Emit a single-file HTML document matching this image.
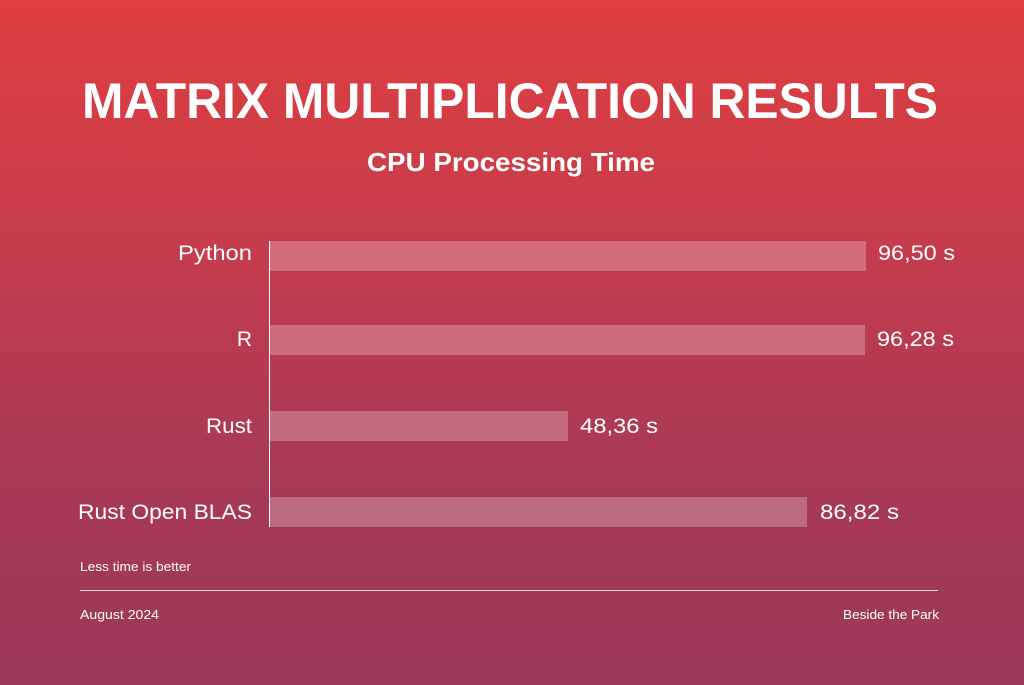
<!DOCTYPE html>
<html><head><meta charset="utf-8"><style>
html,body{margin:0;padding:0;}
body{width:1024px;height:685px;overflow:hidden;background:linear-gradient(180deg,#e03e3f 0%,#c63c4c 35%,#a83957 70%,#9c3758 100%);}
svg{display:block}
text{font-family:"Liberation Sans",sans-serif;fill:#fff}
</style></head><body>
<svg width="1024" height="685" viewBox="0 0 1024 685">
<text x="510" y="118" text-anchor="middle" font-size="50" font-weight="bold" textLength="856" lengthAdjust="spacingAndGlyphs">MATRIX MULTIPLICATION RESULTS</text>
<text x="511" y="171" text-anchor="middle" font-size="26" font-weight="bold" textLength="288" lengthAdjust="spacingAndGlyphs">CPU Processing Time</text>
<g fill="#fff" fill-opacity="0.25">
<rect x="269" y="241" width="597" height="30"/>
<rect x="269" y="325" width="596" height="30"/>
<rect x="269" y="411" width="299" height="30"/>
<rect x="269" y="497" width="538" height="30"/>
</g>
<line x1="269.5" y1="241" x2="269.5" y2="527" stroke="#fff" stroke-width="1"/>
<g font-size="21">
<text x="252" y="260" text-anchor="end" textLength="74" lengthAdjust="spacingAndGlyphs">Python</text>
<text x="252" y="346" text-anchor="end">R</text>
<text x="252" y="433" text-anchor="end" textLength="46" lengthAdjust="spacingAndGlyphs">Rust</text>
<text x="252" y="519" text-anchor="end" textLength="174" lengthAdjust="spacingAndGlyphs">Rust Open BLAS</text>
<text x="878" y="260" textLength="77" lengthAdjust="spacingAndGlyphs">96,50 s</text>
<text x="877" y="346" textLength="77" lengthAdjust="spacingAndGlyphs">96,28 s</text>
<text x="580" y="433" textLength="78" lengthAdjust="spacingAndGlyphs">48,36 s</text>
<text x="820" y="519" textLength="79" lengthAdjust="spacingAndGlyphs">86,82 s</text>
</g>
<text x="80" y="571" font-size="13" textLength="111" lengthAdjust="spacingAndGlyphs">Less time is better</text>
<line x1="80" y1="590.5" x2="938" y2="590.5" stroke="#fff" stroke-opacity="0.85" stroke-width="1"/>
<text x="80" y="619" font-size="13" textLength="79" lengthAdjust="spacingAndGlyphs">August 2024</text>
<text x="939" y="619" font-size="13" text-anchor="end" textLength="96" lengthAdjust="spacingAndGlyphs">Beside the Park</text>
</svg>
</body></html>
